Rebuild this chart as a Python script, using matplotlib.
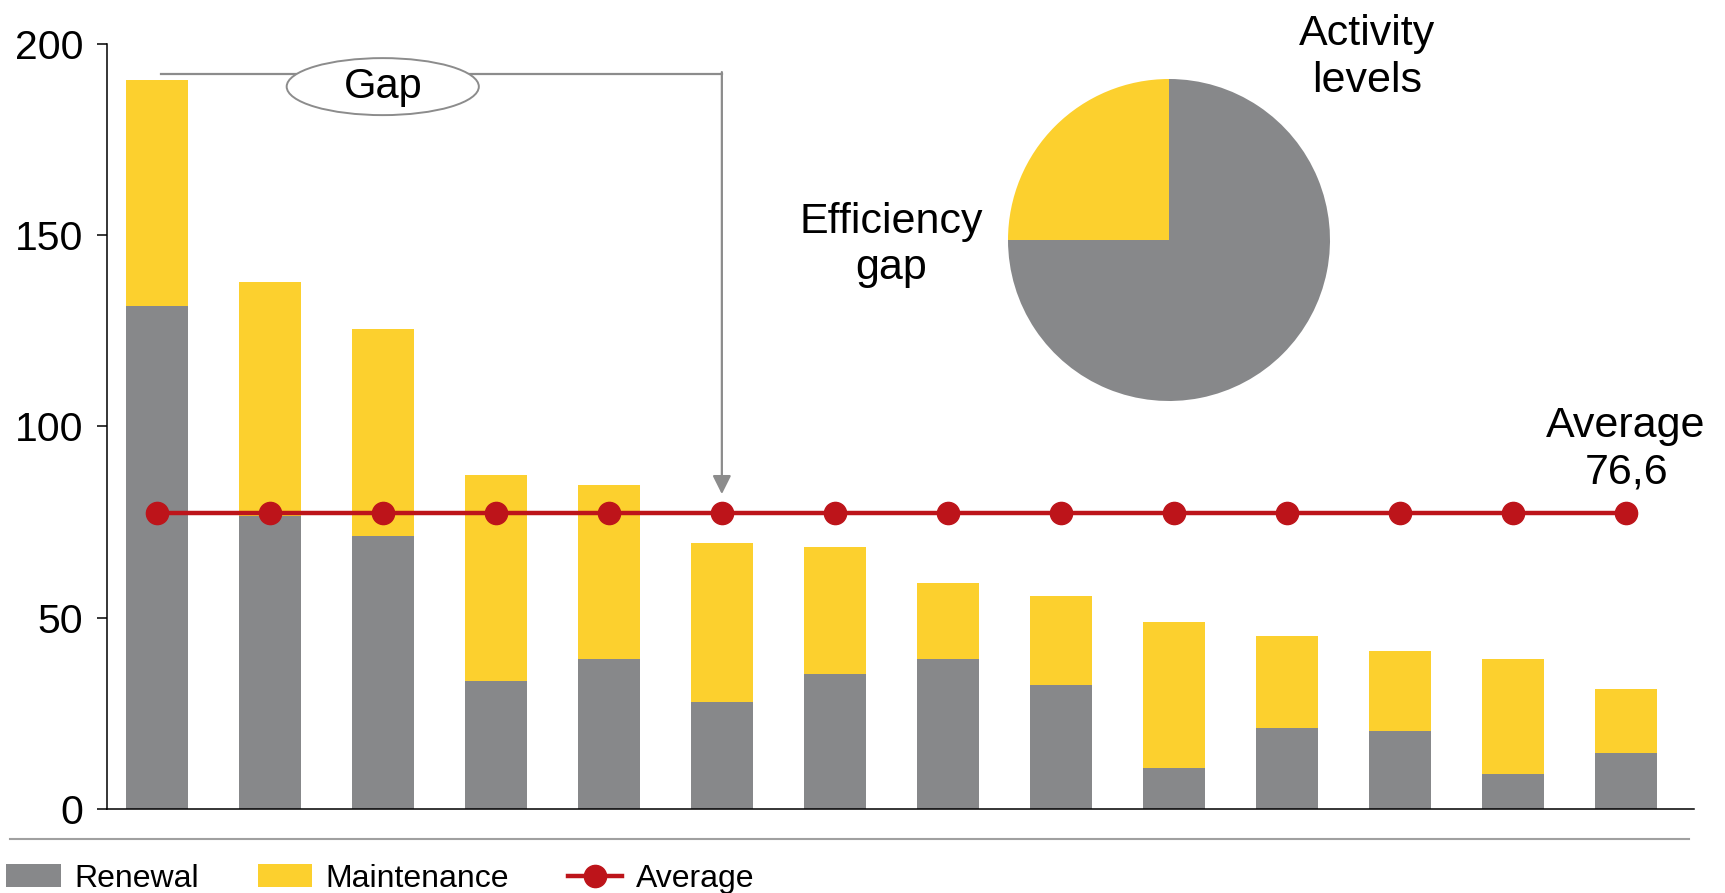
import matplotlib
matplotlib.use("Agg")
import matplotlib.pyplot as plt
from matplotlib.patches import Ellipse
from matplotlib.lines import Line2D
import numpy as np

plt.rcParams['font.family'] = ['Liberation Sans', 'DejaVu Sans']

# data
renewal = [131.5, 76.5, 71.4, 33.4, 39.1, 27.9, 35.4, 39.1, 32.5, 10.6, 21.3, 20.4, 9.2, 14.7]
maintenance = [59.0, 61.3, 54.1, 53.8, 45.5, 41.5, 33.1, 19.9, 23.3, 38.3, 23.9, 20.8, 29.9, 16.7]
average = 77.5
average_label = 'Average\n76,6'
pie_values = [25, 75]   # efficiency gap, activity levels
y_ticks = [0, 50, 100, 150, 200]

gray = '#87888a'
yellow = '#fcd02e'
red = '#bd141a'
line_gray = '#8c8c8c'

fig = plt.figure(figsize=(17.25, 8.93), dpi=100)
ax = fig.add_axes([0.062, 0.094, 0.920, 0.857])

x = np.arange(len(renewal))
width = 0.55
b1 = ax.bar(x, renewal, width=width, color=gray, label='Renewal', zorder=2)
b2 = ax.bar(x, maintenance, width=width, bottom=renewal, color=yellow, label='Maintenance', zorder=2)
l1, = ax.plot(x, [average] * len(x), color=red, lw=3.2, marker='o', ms=16, label='Average', zorder=3)

ax.text(x[-1], 94.0, average_label, ha='center', va='center', fontsize=31, linespacing=1.2)

# gap annotation
ax.plot([x[0] + 0.04, x[5]], [192.2, 192.2], color=line_gray, lw=1.6, zorder=2)
ax.annotate('', xy=(x[5], 82.3), xytext=(x[5], 192.6),
            arrowprops=dict(arrowstyle='-|>,head_length=0.8,head_width=0.4', mutation_scale=14,
                            color=line_gray, lw=1.6, shrinkA=0, shrinkB=0))
ell = Ellipse((2.0, 188.8), 1.70, 14.9, facecolor='white', edgecolor=line_gray, lw=1.4, zorder=4)
ax.add_patch(ell)
ax.text(2.0, 188.8, 'Gap', ha='center', va='center', fontsize=30, zorder=5)

ax.set_xlim(-0.44, 13.6)
ax.set_ylim(0, 200)
ax.set_yticks(y_ticks)
ax.tick_params(axis='y', labelsize=29.5, length=7, width=1.1, pad=10)
ax.set_xticks([])
ax.spines['top'].set_visible(False)
ax.spines['right'].set_visible(False)
ax.spines['left'].set_linewidth(1.1)
ax.spines['bottom'].set_linewidth(1.1)

# pie inset
pie_ax = fig.add_axes([(1169 - 161) / 1725, 1 - (240 + 161) / 893, 322 / 1725, 322 / 893])
pie_ax.pie(pie_values, colors=[yellow, gray], startangle=90, counterclock=True)
pie_ax.set_xlim(-1, 1)
pie_ax.set_ylim(-1, 1)
pie_ax.set_aspect('equal')
fig.text(0.5165, 0.7256, 'Efficiency\ngap', ha='center', va='center', fontsize=31, linespacing=1.22)
fig.text(0.7925, 0.936, 'Activity\nlevels', ha='center', va='center', fontsize=31, linespacing=1.22)

# separator and legend
fig.add_artist(Line2D([0.006, 0.979], [1 - 839 / 893, 1 - 839 / 893], color='#a0a0a0', lw=1.5))
fig.legend([b1, b2, l1], ['Renewal', 'Maintenance', 'Average'], loc='center left',
           bbox_to_anchor=(0.0, 0.016), ncol=3, frameon=False,
           fontsize=23, handlelength=1.7, handletextpad=0.42, columnspacing=1.85, borderaxespad=0,
           borderpad=0.2)

fig.savefig('out.png', dpi=100)
